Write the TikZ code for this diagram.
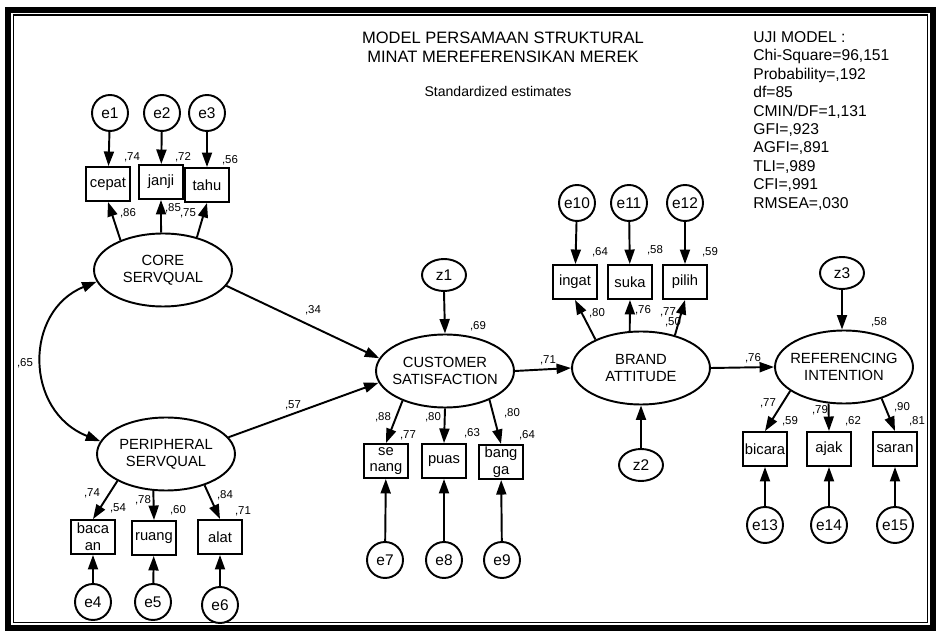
\documentclass[tikz,border=0pt]{standalone}
\usepackage{fontspec}
\setmainfont{Liberation Sans}
\usetikzlibrary{shapes.geometric,arrows.meta}

\begin{document}
\begin{tikzpicture}[x=0.02cm,y=-0.02cm,
    latent/.style={ellipse,draw,line width=1.1pt,minimum width=2.76cm,minimum height=1.46cm,
      inner xsep=-0.2cm,inner ysep=0pt,align=center,font=\fontsize{8.4}{9.6}\selectfont},
    obs/.style={rectangle,draw,line width=1.1pt,minimum width=0.88cm,minimum height=0.68cm,
      inner sep=1pt,align=center,font=\fontsize{8.4}{9.6}\selectfont},
    err/.style={circle,draw,line width=1.1pt,minimum size=0.72cm,inner sep=0pt,
      font=\fontsize{8.8}{10}\selectfont},
    dist/.style={ellipse,draw,line width=1.1pt,minimum width=0.88cm,minimum height=0.64cm,
      inner sep=0pt,font=\fontsize{8.8}{10}\selectfont},
    est/.style={inner sep=0pt,font=\fontsize{6.5}{7}\selectfont},
    arr/.style={line width=1.1pt,-{Triangle[length=0.29cm,width=0.2cm]}},
    cov/.style={line width=1.1pt,{Triangle[length=0.29cm,width=0.2cm]}-{Triangle[length=0.29cm,width=0.2cm]}}]
  \useasboundingbox (0,0) rectangle (940,634);
  \draw[line width=3.4pt] (8,10) rectangle (933,628);
  \draw[line width=0.8pt] (13.5,15) rectangle (927.5,622.5);

  \node[font=\fontsize{9.4}{10.8}\selectfont,align=center] (title) at (503,47.5)
    {MODEL PERSAMAAN STRUKTURAL\\MINAT MEREFERENSIKAN MEREK};
  \node[font=\fontsize{8}{9}\selectfont] (std) at (498,91) {Standardized estimates};
  \node[font=\fontsize{8.9}{10.5}\selectfont,align=left,anchor=north west,inner sep=0pt] (fit) at (753,31)
    {UJI MODEL :\\Chi-Square=96,151\\Probability=,192\\df=85\\CMIN/DF=1,131\\GFI=,923\\AGFI=,891\\TLI=,989\\CFI=,991\\RMSEA=,030};

  \node[latent] (core) at (163,270) {CORE\\SERVQUAL};
  \node[latent] (per) at (166,454) {PERIPHERAL\\SERVQUAL};
  \node[latent] (cs) at (445,371) {CUSTOMER\\SATISFACTION};
  \node[latent] (ba) at (641,368) {BRAND\\ATTITUDE};
  \node[latent] (ri) at (844,367) {REFERENCING\\INTENTION};

  \node[dist] (z1) at (444,275) {z1};
  \node[dist] (z2) at (641,465) {z2};
  \node[dist] (z3) at (842,273) {z3};

  \foreach \n/\x/\y/\t in {cepat/108/184/cepat,janji/161/182/janji,tahu/207/185/tahu,
      bacaan/93/537/{baca\\an},ruang/154/538/ruang,alat/220/537/alat,
      senang/386/461/{se\\nang},puas/444/461/puas,bangga/501/462/{bang\\ga},
      ingat/575/282/ingat,suka/630/282/suka,pilih/685/282/pilih,
      bicara/765/449/bicara,ajak/829/449/ajak,saran/895/449/saran}
    \node[obs] (\n) at (\x,\y) {\t};

  \foreach \n/\x/\y in {e1/110/113,e2/162/113,e3/207/113,e4/93/602,e5/153/602,e6/220/605,
      e7/385/560,e8/444/560,e9/502/560,e10/577/203,e11/629/203,e12/685/203,
      e13/765/525,e14/829/525,e15/895/525}
    \node[err] (\n) at (\x,\y) {\n};

  \foreach \x/\y/\v [count=\i] in {132/157/74,183/157/72,230/160/56,128/213/86,173/208/85,188/213/75,
      92/493/74,118/508/54,143/500/78,178/510/60,225/495/84,243/511/71,
      383/417/88,408/435/77,433/417/80,472/433/63,512/413/80,527/435/64,
      600/252/64,655/250/58,710/252/59,597/313/80,643/310/76,668/312/77,673/322/50,
      768/403/77,790/421/59,820/410/79,853/421/62,902/407/90,917/421/81,
      313/310/34,293/405/57,478/326/69,548/360/71,753/358/76,879/322/58,25/363/65}
    \node[est] (est\i) at (\x,\y) {,\v};

  \foreach \a/\b in {e1/cepat,e2/janji,e3/tahu,e4/bacaan,e5/ruang,e6/alat,
      e7/senang,e8/puas,e9/bangga,e10/ingat,e11/suka,e12/pilih,
      e13/bicara,e14/ajak,e15/saran}
    \draw[arr] (\a) -- (\b);

  \foreach \a/\b in {core.145/cepat.south,core.93/janji.south,core.44/tahu.south,
      per.209/bacaan.north,per.251/ruang.north,per.321/alat.north,
      cs.215/senang.north,cs.270/puas.north,cs.327/bangga.north,
      ba.148/ingat.south,ba.107/suka.south,ba.44/pilih.south,
      ri.204/bicara.north,ri.247/ajak.north,ri.320/saran.north,
      core.-14/cs.169,per.15/cs.190,cs.east/ba.west,ba.east/ri.west,
      z1.south/cs.north,z2.north/ba.south}
    \draw[arr] (\a) -- (\b);
  \draw[arr] (z3.south) -- (z3.south |- ri.north);

  \draw[cov] (core.190) .. controls (24,311) and (24,411) .. (per.169);
\end{tikzpicture}
\end{document}
